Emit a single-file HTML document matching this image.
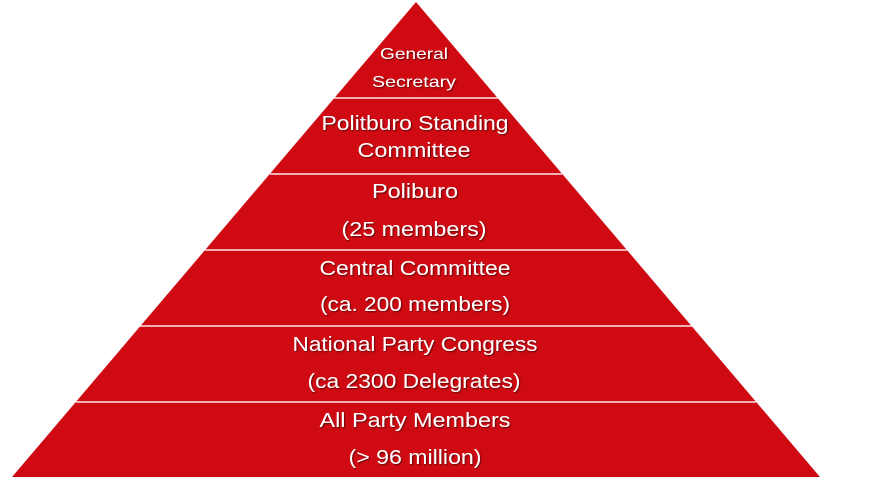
<!DOCTYPE html>
<html><head><meta charset="utf-8"><style>
html,body{margin:0;padding:0;background:#fff;width:872px;height:500px;overflow:hidden}
text{font-family:"Liberation Sans",sans-serif;fill:#fff;text-anchor:middle}
</style></head><body>
<svg width="872" height="500" viewBox="0 0 872 500" xmlns="http://www.w3.org/2000/svg">
<defs><filter id="s" x="-10%" y="-30%" width="120%" height="160%"><feDropShadow dx="1" dy="1" stdDeviation="0.8" flood-color="#000" flood-opacity="0.55"/></filter></defs>
<polygon points="416,2 820,477 12,477" fill="#d00a12"/>
<g stroke="#fff" stroke-width="1.6" opacity="0.9">
<line x1="334" y1="98" x2="498" y2="98"/>
<line x1="270" y1="174" x2="562" y2="174"/>
<line x1="205" y1="250" x2="627" y2="250"/>
<line x1="140" y1="326" x2="692" y2="326"/>
<line x1="76" y1="402" x2="756" y2="402"/>
</g>
<g filter="url(#s)">
<text x="414" y="59" font-size="16" textLength="68" lengthAdjust="spacingAndGlyphs">General</text>
<text x="414" y="87" font-size="16" textLength="84" lengthAdjust="spacingAndGlyphs">Secretary</text>
<text x="415" y="130" font-size="20" textLength="187" lengthAdjust="spacingAndGlyphs">Politburo Standing</text>
<text x="414" y="157" font-size="20" textLength="113" lengthAdjust="spacingAndGlyphs">Committee</text>
<text x="415" y="198" font-size="20" textLength="86" lengthAdjust="spacingAndGlyphs">Poliburo</text>
<text x="414" y="236" font-size="20" textLength="145" lengthAdjust="spacingAndGlyphs">(25 members)</text>
<text x="415" y="275" font-size="20" textLength="191" lengthAdjust="spacingAndGlyphs">Central Committee</text>
<text x="415" y="311" font-size="20" textLength="190" lengthAdjust="spacingAndGlyphs">(ca. 200 members)</text>
<text x="415" y="351" font-size="20" textLength="245" lengthAdjust="spacingAndGlyphs">National Party Congress</text>
<text x="414" y="388" font-size="20" textLength="213" lengthAdjust="spacingAndGlyphs">(ca 2300 Delegrates)</text>
<text x="415" y="427" font-size="20" textLength="191" lengthAdjust="spacingAndGlyphs">All Party Members</text>
<text x="415" y="464" font-size="20" textLength="133" lengthAdjust="spacingAndGlyphs">(&gt; 96 million)</text>
</g>
</svg>
</body></html>
